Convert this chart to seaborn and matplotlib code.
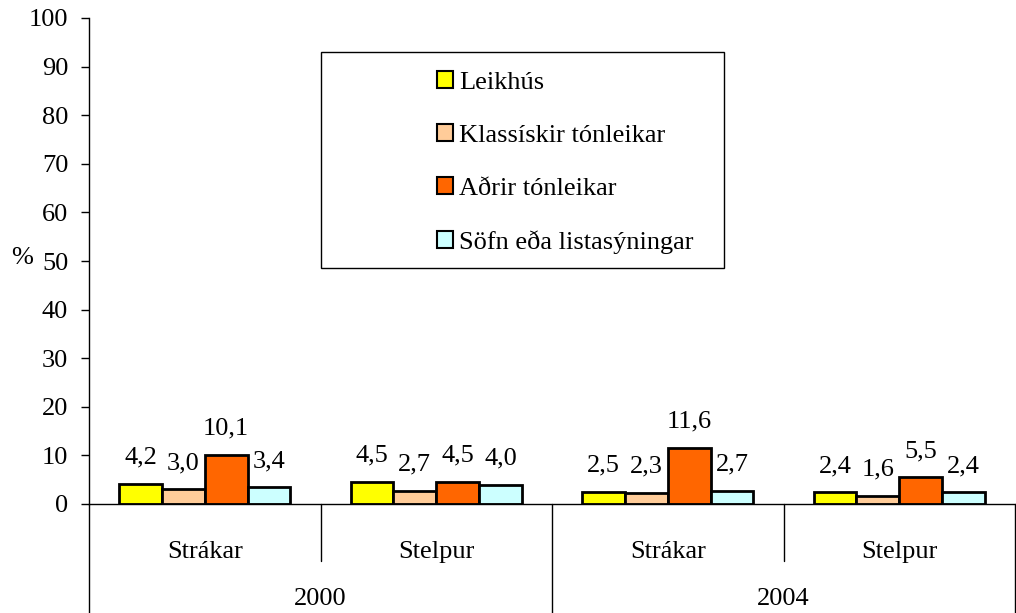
import matplotlib
matplotlib.use("Agg")
import matplotlib.pyplot as plt
import seaborn as sns
import pandas as pd
from matplotlib.patches import Patch, Rectangle

# Survey shares (%) by year and gender
years = ["2000", "2000", "2004", "2004"]
genders = ["Strákar", "Stelpur", "Strákar", "Stelpur"]
series = ["Leikhús", "Klassískir tónleikar", "Aðrir tónleikar", "Söfn eða listasýningar"]
leikhus = [4.2, 4.5, 2.5, 2.4]
klassiskir = [3.0, 2.7, 2.3, 1.6]
adrir = [10.1, 4.5, 11.6, 5.5]
sofn = [3.4, 4.0, 2.7, 2.4]
colors = ["#FFFF00", "#FFCC99", "#FF6600", "#CCFFFF"]
yticks = list(range(0, 101, 10))

groups = [f"{y} {g}" for y, g in zip(years, genders)]
rows = []
for name, vals in zip(series, [leikhus, klassiskir, adrir, sofn]):
    for grp, v in zip(groups, vals):
        rows.append({"group": grp, "series": name, "value": v})
df = pd.DataFrame(rows)

sns.set_theme(style="white", rc={"text.color": "black", "axes.labelcolor": "black",
                                 "xtick.color": "black", "ytick.color": "black"})
plt.rcParams["font.family"] = ["Liberation Serif", "DejaVu Serif"]
FS = 19

fig = plt.figure(figsize=(10.16, 6.13), dpi=100)
W, H = 926, 486  # axes size in pixels
ax = fig.add_axes([89 / 1016, (613 - 504) / 613, W / 1016, H / 613])

sns.barplot(data=df, x="group", y="value", hue="series", order=groups,
            hue_order=series, palette=colors, width=0.74, edgecolor="black",
            linewidth=2, saturation=1, legend=False, ax=ax)

for cont in ax.containers:
    labels = [f"{b.get_height():.1f}".replace(".", ",") for b in cont]
    ax.bar_label(cont, labels=labels, padding=11, fontsize=FS, color="black")

ax.set_ylim(0, 100)
ax.set_xlim(-0.5, 3.5)
ax.set_yticks(yticks)
ax.set_yticklabels([str(t) for t in yticks], fontsize=FS, color="black")
ax.tick_params(axis="y", direction="out", length=6, width=1, color="black", pad=9, left=True)
ax.tick_params(axis="x", bottom=False, labelbottom=False)
ax.set_xlabel("")
ax.set_ylabel("%", fontsize=FS, rotation=0, ha="center", va="center", color="black")
ax.yaxis.set_label_coords((22 - 89) / W, (504 - 258) / H)

for side in ["top", "right"]:
    ax.spines[side].set_visible(False)
for side in ["left", "bottom"]:
    ax.spines[side].set_color("black")
    ax.spines[side].set_linewidth(1)

# Category dividers below the axis
trans = ax.get_xaxis_transform()
short = -57 / H
long_ = -110 / H
for x, depth in [(-0.5, long_), (0.5, short), (1.5, long_), (2.5, short), (3.5, long_)]:
    ax.plot([x, x], [0, depth], transform=trans, color="black", lw=1, clip_on=False)

for i, g in enumerate(genders):
    ax.text(i, -48 / H, g, transform=trans, ha="center", va="center", fontsize=FS, color="black")
for i, y in enumerate(["2000", "2004"]):
    ax.text(0.5 + 2 * i, -95 / H, y, transform=trans, ha="center", va="center", fontsize=FS, color="black")

# Legend box and entries
box = Rectangle(((321 - 89) / W, (504 - 268) / H), 403 / W, 216 / H,
                transform=ax.transAxes, facecolor="white", edgecolor="black",
                linewidth=1, zorder=4, clip_on=False)
ax.add_patch(box)
handles = [Patch(facecolor=c, edgecolor="black", linewidth=1.5) for c in colors]
leg = ax.legend(handles, series, loc="upper left",
                bbox_to_anchor=((437 - 89) / W, (504 - 71) / H),
                fontsize=FS, frameon=False, labelcolor="black",
                handlelength=0.6, handleheight=0.6, handletextpad=0.25,
                labelspacing=1.15, borderpad=0, borderaxespad=0)
leg.set_zorder(5)

fig.savefig("out.png", dpi=100)
